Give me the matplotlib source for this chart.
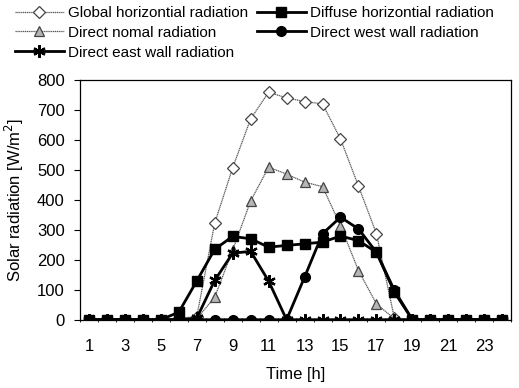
import matplotlib.pyplot as plt
from matplotlib.ticker import MultipleLocator

plt.rcParams['font.family'] = ['Liberation Sans', 'DejaVu Sans']

hours = list(range(1, 25))
global_h = [0, 0, 0, 0, 0, 5, 10, 322, 507, 670, 759, 740, 728, 720, 603, 446, 287, 5,
            0, 0, 0, 0, 0, 0]
diffuse_h = [0, 0, 0, 0, 0, 25, 129, 235, 278, 270, 242, 248, 253, 259, 279, 264, 225, 92,
             0, 0, 0, 0, 0, 0]
direct_n = [0, 0, 0, 0, 0, 0, 3, 75, 232, 396, 509, 486, 459, 444, 314, 164, 53, 3,
            0, 0, 0, 0, 0, 0]
west_wall = [0, 0, 0, 0, 0, 0, 0, 0, 0, 0, 0, 0, 142, 287, 342, 303, 225, 98,
             0, 0, 0, 0, 0, 0]
east_wall = [0, 0, 0, 0, 0, 0, 5, 131, 222, 228, 129, 0, 0, 0, 0, 0, 0, 0,
             0, 0, 0, 0, 0, 0]
x_labels = [str(h) for h in range(1, 25, 2)]

fig = plt.figure(figsize=(5.19, 3.88), dpi=100)
ax = fig.add_axes([0.154, 0.176, 0.831, 0.618])

l1, = ax.plot(hours, global_h, color='#555555', lw=0.9, ls=(0, (1, 0.5)),
              marker='D', ms=6, mfc='white', mec='#444444', mew=0.9,
              label='Global horizontial radiation')
l2, = ax.plot(hours, direct_n, color='#555555', lw=0.9, ls=(0, (1, 0.5)),
              marker='^', ms=7, mfc='#b5b5b5', mec='#444444', mew=0.9,
              label='Direct nomal radiation')
l5, = ax.plot(hours, west_wall, color='black', lw=2.0, marker='o', ms=7,
              mfc='black', mec='black', label='Direct west wall radiation')
l4, = ax.plot(hours, diffuse_h, color='black', lw=2.0, marker='s', ms=7,
              mfc='black', mec='black', label='Diffuse horizontial radiation')
l3, = ax.plot(hours, east_wall, color='black', lw=2.0, marker=(6, 2, 0), ms=9,
              mew=1.6, mec='black', label='Direct east wall radiation')

ax.set_xlim(0.5, 24.5)
ax.set_ylim(0, 800)
ax.set_xticks(range(1, 25, 2))
ax.set_xticklabels(x_labels)
ax.set_xticks([h + 0.5 for h in range(0, 25)], minor=True)
ax.tick_params(axis='x', which='major', length=0, pad=14, labelsize=12)
ax.tick_params(axis='x', which='minor', length=3, direction='inout', width=0.6)
ax.yaxis.set_major_locator(MultipleLocator(100))
ax.tick_params(axis='y', length=4, width=0.8, labelsize=12, pad=7)
for s in ax.spines.values():
    s.set_linewidth(0.9)

ax.set_xlabel('Time [h]', fontsize=12, labelpad=9)
ax.set_ylabel('Solar radiation [W/m$^2$]', fontsize=12, labelpad=8)

fig.legend(handles=[l1, l2, l3, l4, l5], ncol=2, loc='upper left',
           bbox_to_anchor=(15 / 519, 1 - 6 / 388), frameon=False, fontsize=11,
           borderpad=0, borderaxespad=0,
           handlelength=3.2, columnspacing=0.6, labelspacing=0.38,
           handletextpad=0.25)

fig.savefig('out.png', dpi=100)
